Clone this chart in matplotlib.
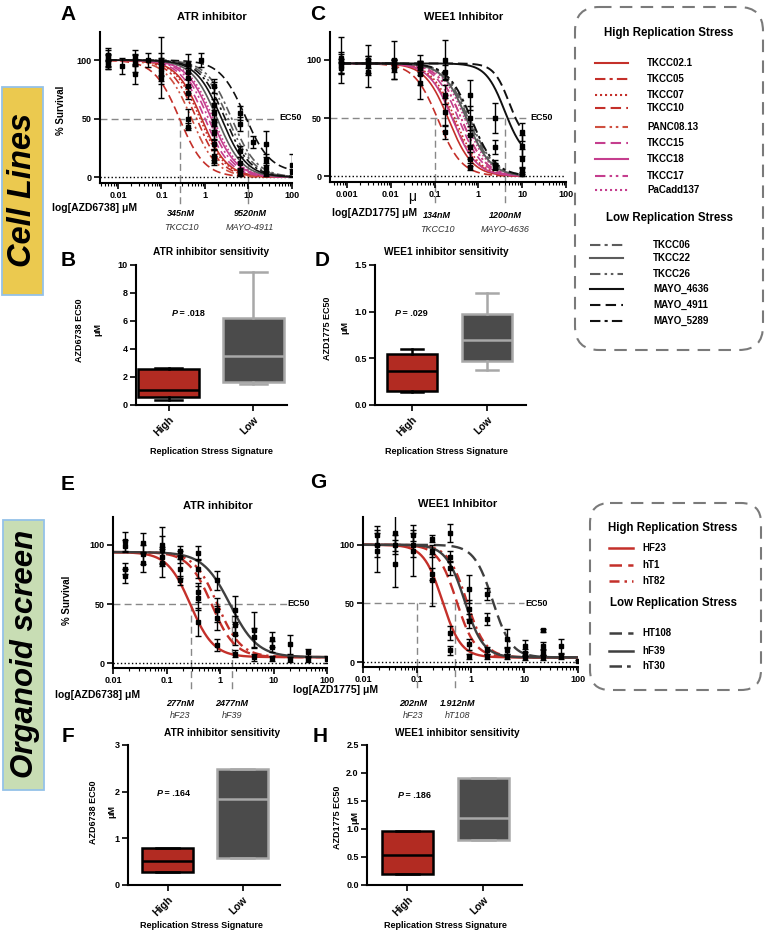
import numpy as np
import matplotlib
matplotlib.use('Agg')
import matplotlib.pyplot as plt
from matplotlib.patches import Rectangle, FancyBboxPatch
from matplotlib.ticker import FixedLocator, NullFormatter

plt.rcParams['font.family'] = ['Liberation Sans', 'DejaVu Sans']

W, H = 767, 935

# ---- names / styles
RED = '#C4302A'
RED2 = '#CF5040'
MAG = '#C53E8E'
GREY = '#5C5C5C'
BLACK = '#111111'
DGREY = '#3F3F3F'
DASH = (0, (5, 2.5))
DOT = (0, (1, 1.4))
DASHDOT = (0, (5, 2, 1.5, 2))
DASHDOTDOT = (0, (5, 2, 1.2, 1.8, 1.2, 2))

hi_names = ['TKCC02.1', 'TKCC05', 'TKCC07', 'TKCC10', 'PANC08.13', 'TKCC15', 'TKCC18', 'TKCC17', 'PaCadd137']
hi_colors = [RED, RED, RED, RED, RED2, MAG, MAG, MAG, MAG]
hi_styles = ['-', DASHDOT, DOT, DASH, DASHDOTDOT, DASH, '-', DASHDOTDOT, DOT]
lo_names = ['TKCC06', 'TKCC22', 'TKCC26', 'MAYO_4636', 'MAYO_4911', 'MAYO_5289']
lo_colors = [GREY, GREY, GREY, BLACK, BLACK, BLACK]
lo_styles = [DASHDOT, '-', DASHDOTDOT, '-', DASH, DASHDOT]

org_hi_names = ['HF23', 'hT1', 'hT82']
org_hi_styles = ['-', DASH, (0, (4, 2, 1, 2))]
org_lo_names = ['HT108', 'hF39', 'hT30']
org_lo_styles = [DASH, '-', DASHDOT]

# ---- fitted curves (EC50 uM, hill, top, bottom)
atr_cell_ec50_hi = [0.84, 0.64, 0.77, 0.26, 0.49, 1.0, 1.4, 1.2, 1.55]
atr_cell_ec50_lo = [4.1, 1.9, 3.4, 2.4, 8.4, 2.9]
atr_cell_bottom_lo = [0, 0, 0, 0, 4, 0]

wee1_cell_ec50_hi = [0.21, 0.27, 0.3, 0.12, 0.42, 0.36, 0.26, 0.42, 0.5]
wee1_cell_ec50_lo = [0.6, 0.55, 0.65, 4.0, 5.0, 0.7]
wee1_cell_hill_lo = [1.6, 1.6, 1.6, 2.0, 2.5, 1.6]
wee1_cell_bottom_lo = [0, 0, 0, 15, 30, 0]

atr_org_curves = ['HF23', 'hT1', 'hT82', 'hF39']
atr_org_curve_ec50 = [0.28, 0.7, 0.9, 1.55]
atr_org_curve_hill = [2.0, 2.0, 2.0, 1.7]

wee1_org_curves = ['HF23', 'hT1', 'hT82', 'hF39', 'HT108']
wee1_org_curve_ec50 = [0.3, 0.55, 0.85, 0.78, 2.6]

# ---- measured points (mean, error) per concentration
atr_cell_conc = [0.006, 0.0125, 0.025, 0.05, 0.1, 0.4, 0.8, 1.6, 6.4, 12.5, 25, 100]
atr_cell_mean = [[100, 98, 102, 96, 104], [95], [100, 97, 88, 103], [100], [100, 96, 90, 85, 92],
                 [97, 90, 85, 78, 72, 50, 43], [100], [78, 62, 55, 45, 38, 28, 18, 14, 48],
                 [55, 45, 22, 12, 5, 3], [30], [28, 15, 8, 3], [10, 4]]
atr_cell_err = [[5, 6, 8, 4, 5], [7], [5, 7, 8, 6], [6], [20, 10, 8, 17, 5],
                [8, 6, 8, 6, 5, 8, 3], [6], [6, 5, 8, 5, 6, 5, 6, 4, 33],
                [6, 6, 5, 5, 3, 2], [5], [11, 5, 4, 2], [10, 3]]

wee1_cell_conc = [0.00074, 0.003, 0.012, 0.046, 0.17, 0.63, 2.4, 10]
wee1_cell_mean = [[100, 97, 95, 102, 93], [100, 95, 90, 98], [100, 95, 92, 97], [97, 93, 88, 80, 95],
                  [100, 90, 70, 55, 38], [70, 50, 35, 25, 15, 8], [50, 25, 10, 8], [38, 26, 15, 5, 2]]
wee1_cell_err = [[20, 8, 6, 5, 5], [13, 6, 13, 5], [16, 5, 8, 4], [7, 6, 10, 14, 4],
                 [17, 6, 8, 12, 6], [13, 10, 8, 10, 6, 3], [13, 6, 4, 3], [8, 9, 8, 3, 2]]

atr_org_conc = [0.0165, 0.036, 0.081, 0.178, 0.39, 0.87, 1.9, 4.3, 9.4, 20, 44, 100]
atr_org_mean = [[103, 99, 80, 74], [102, 92, 85], [100, 96, 90, 85], [95, 90, 80, 70],
                [93, 80, 60, 55, 35], [70, 45, 38, 15], [45, 32, 25, 8], [28, 22, 5],
                [20, 14, 4], [16, 3], [9, 3], [3]]
atr_org_err = [[8, 5, 5, 6], [8, 8, 8], [15, 12, 8, 12], [4, 5, 8, 4],
               [6, 8, 8, 10, 12], [8, 10, 10, 5], [12, 8, 10, 3], [15, 8, 3],
               [6, 5, 2], [8, 2], [3, 2], [3]]

wee1_org_conc = [0.018, 0.039, 0.087, 0.19, 0.42, 0.93, 2.05, 4.7, 10.4, 22, 49, 100]
wee1_org_mean = [[108, 100, 95], [110, 100, 84], [108, 100, 95], [105, 95, 75, 70],
                 [110, 90, 80, 25, 10], [62, 45, 35, 15, 5], [58, 37, 10, 5], [20, 10, 5],
                 [14, 8, 4], [27, 14, 8, 4], [14, 5], [1]]
wee1_org_err = [[8, 10, 18], [15, 8, 20], [5, 10, 22], [3, 5, 5, 22],
                [8, 5, 6, 6, 4], [12, 8, 6, 5, 2], [5, 5, 3, 2], [8, 3, 2],
                [5, 3, 2], [1, 3, 2, 2], [6, 2], [1]]

# ---- EC50 summary values (uM) for the box plots
atr_cell_hi = [1.05, 0.5, 2.5, 0.345, 0.6, 0.9, 2.6, 1.3, 2.65]
atr_cell_lo = [2.8, 1.7, 4.2, 1.5, 9.52, 5.1]
wee1_cell_hi = [0.25, 0.16, 0.42, 0.134, 0.36, 0.52, 0.14, 0.58, 0.6]
wee1_cell_lo = [0.62, 0.5, 0.78, 1.2, 0.907, 0.38]
atr_org_hi = [0.277, 0.52, 0.8]
atr_org_lo = [0.58, 2.477, 1.85]
wee1_org_hi = [0.202, 0.53, 0.97]
wee1_org_lo = [1.912, 1.2, 0.8]

fig = plt.figure(figsize=(W / 100, H / 100), dpi=100)


def px_axes(x0, y0, x1, y1):
    return fig.add_axes([x0 / W, 1 - y1 / H, (x1 - x0) / W, (y1 - y0) / H])


def logistic(x, ec50, hill, top, bottom):
    return bottom + (top - bottom) / (1 + (x / ec50) ** hill)


def style_axes(ax):
    for s in ['top', 'right']:
        ax.spines[s].set_visible(False)
    for s in ['left', 'bottom']:
        ax.spines[s].set_linewidth(1.5)
    ax.tick_params(which='major', length=4, width=1.2, labelsize=6.5, pad=2)
    ax.tick_params(which='minor', length=2.5, width=0.8)
    for lab in ax.get_xticklabels() + ax.get_yticklabels():
        lab.set_fontweight('bold')


def dose_axes(ax, xlim, ticks, labels):
    ax.set_xscale('log')
    ax.set_xlim(xlim)
    ax.set_ylim(-5, 124)
    ax.xaxis.set_major_locator(FixedLocator(ticks))
    ax.set_xticklabels(labels)
    minors = [m * 10.0 ** e for e in range(-4, 3) for m in range(2, 10)]
    ax.xaxis.set_minor_locator(FixedLocator(minors))
    ax.xaxis.set_minor_formatter(NullFormatter())
    ax.set_yticks([0, 50, 100])
    ax.set_yticklabels(['0', '50', '100'])
    ax.axhline(0, color='k', ls=':', lw=1)
    style_axes(ax)


def points(ax, conc, means, errs):
    for c, ms, es in zip(conc, means, errs):
        ax.errorbar([c] * len(ms), ms, yerr=es, fmt='s', color='k', ms=3,
                    capsize=2.5, elinewidth=1, capthick=1, zorder=5)


def ec50_marks(ax, x_left, x_right, vlines, ybot):
    ax.plot([x_left, x_right], [50, 50], color='#888888', ls=(0, (5, 3)), lw=1, zorder=1)
    for v in vlines:
        ax.plot([v, v], [50, ybot], color='#888888', ls=(0, (5, 3)), lw=1,
                clip_on=False, zorder=1)


# ================= A : ATR cell lines
axA = px_axes(100, 32, 292, 183)
dose_axes(axA, (0.00386, 100), [0.01, 0.1, 1, 10, 100], ['0.01', '0.1', '1', '10', '100'])
xs = np.logspace(np.log10(0.006), 2, 300)
for e, c, ls in zip(atr_cell_ec50_hi, hi_colors, hi_styles):
    axA.plot(xs, logistic(xs, e, 1.5, 100, 0), color=c, ls=ls, lw=1.2)
for e, b, c, ls in zip(atr_cell_ec50_lo, atr_cell_bottom_lo, lo_colors, lo_styles):
    axA.plot(xs, logistic(xs, e, 1.5, 100, b), color=c, ls=ls, lw=1.2)
points(axA, atr_cell_conc, atr_cell_mean, atr_cell_err)
ec50_marks(axA, 0.00386, 45, [0.27, 10], -24)

# ================= C : WEE1 cell lines
axC = px_axes(330, 32, 566, 182)
dose_axes(axC, (0.00041, 100), [0.001, 0.01, 0.1, 1, 10, 100],
          ['0.001', '0.01', '0.1', '1', '10', '100'])
xs = np.logspace(np.log10(0.00074), 1, 300)
for e, c, ls in zip(wee1_cell_ec50_hi, hi_colors, hi_styles):
    axC.plot(xs, logistic(xs, e, 1.6, 97, 0), color=c, ls=ls, lw=1.2)
for e, h, b, c, ls in zip(wee1_cell_ec50_lo, wee1_cell_hill_lo, wee1_cell_bottom_lo, lo_colors, lo_styles):
    axC.plot(xs, logistic(xs, e, h, 97, b), color=c, ls=ls, lw=1.4)
points(axC, wee1_cell_conc, wee1_cell_mean, wee1_cell_err)
ec50_marks(axC, 0.00041, 12, [0.1, 4.1], -26)

# ================= E : ATR organoids
org_style = {n: (RED, s) for n, s in zip(org_hi_names, org_hi_styles)}
org_style.update({n: (DGREY, s) for n, s in zip(org_lo_names, org_lo_styles)})

axE = px_axes(113, 517, 327, 668)
dose_axes(axE, (0.01, 100), [0.01, 0.1, 1, 10, 100], ['0.01', '0.1', '1', '10', '100'])
axE.set_ylim(-4.2, 123.7)
xs = np.logspace(-2, 2, 300)
for n, e, h in zip(atr_org_curves, atr_org_curve_ec50, atr_org_curve_hill):
    c, ls = org_style[n]
    axE.plot(xs, logistic(xs, e, h, 94, 5), color=c, ls=ls, lw=1.7)
points(axE, atr_org_conc, atr_org_mean, atr_org_err)
ec50_marks(axE, 0.01, 18, [0.29, 1.7], -23)

# ================= G : WEE1 organoids
axG = px_axes(363, 517, 578, 667)
dose_axes(axG, (0.01, 100), [0.01, 0.1, 1, 10, 100], ['0.01', '0.1', '1', '10', '100'])
axG.set_ylim(-4.2, 123.7)
for n, e in zip(wee1_org_curves, wee1_org_curve_ec50):
    c, ls = org_style[n]
    axG.plot(xs, logistic(xs, e, 2.5, 100, 4), color=c, ls=ls, lw=1.7)
points(axG, wee1_org_conc, wee1_org_mean, wee1_org_err)
ec50_marks(axG, 0.01, 10, [0.1, 0.52], -23)


# ================= box plots
def box_panel(ax, hi, lo, ylim, yticks, ylabels, xlim, width, capw):
    for pos, vals, fc, ec in [(0, hi, '#B22B22', 'k'), (1, lo, '#4B4B4B', '#A8A8A8')]:
        q1, med, q3 = np.percentile(vals, [25, 50, 75], method='weibull')
        st = dict(med=med, q1=q1, q3=q3, whislo=min(vals), whishi=max(vals), fliers=[])
        ax.bxp([st], positions=[pos], widths=width, patch_artist=True, showfliers=False,
               capwidths=capw,
               boxprops=dict(facecolor=fc, edgecolor=ec, linewidth=1.8),
               medianprops=dict(color=ec, linewidth=1.8),
               whiskerprops=dict(color=ec, linewidth=1.8),
               capprops=dict(color=ec, linewidth=1.8))
    ax.set_xlim(xlim)
    ax.set_ylim(ylim)
    ax.set_yticks(yticks)
    ax.set_yticklabels(ylabels)
    ax.set_xticks([0, 1])
    ax.set_xticklabels(['High', 'Low'], rotation=45, ha='right', rotation_mode='anchor')
    style_axes(ax)
    ax.tick_params(axis='x', labelsize=7.5, length=4, pad=3)


axB = px_axes(136, 265, 287, 405)
box_panel(axB, atr_cell_hi, atr_cell_lo, (0, 10), [0, 2, 4, 6, 8, 10],
          ['0', '2', '4', '6', '8', '10'], (-0.385, 1.40), 0.72, 0.32)
axD = px_axes(375, 265, 526, 405)
box_panel(axD, wee1_cell_hi, wee1_cell_lo, (0, 1.5), [0, 0.5, 1.0, 1.5],
          ['0.0', '0.5', '1.0', '1.5'], (-0.49, 1.52), 0.67, 0.29)
axF = px_axes(128, 745, 280, 885)
box_panel(axF, atr_org_hi, atr_org_lo, (0, 3), [0, 1, 2, 3],
          ['0', '1', '2', '3'], (-0.53, 1.50), 0.68, 0.3)
axH = px_axes(367, 745, 522, 885)
box_panel(axH, wee1_org_hi, wee1_org_lo, (0, 2.5), [0, 0.5, 1.0, 1.5, 2.0, 2.5],
          ['0.0', '0.5', '1.0', '1.5', '2.0', '2.5'], (-0.53, 1.51), 0.67, 0.3)

# ================= overlay in pixel coordinates
ov = fig.add_axes([0, 0, 1, 1])
ov.set_xlim(0, W)
ov.set_ylim(H, 0)
ov.axis('off')


def t(x, y, s, size=7, weight='bold', style='normal', ha='left', color='k', **kw):
    ov.text(x, y, s, fontsize=size, fontweight=weight, fontstyle=style, ha=ha,
            va='center', color=color, **kw)


# side labels
ov.add_patch(Rectangle((2, 87), 41, 208, facecolor='#EBC94F', edgecolor='#94C2E8', lw=1.3))
t(23, 190, 'Cell Lines', size=23.5, style='italic', ha='center', rotation=90)
ov.add_patch(Rectangle((3, 520), 41, 270, facecolor='#C8DDB4', edgecolor='#94C2E8', lw=1.3))
t(25, 654, 'Organoid screen', size=22.5, style='italic', ha='center', rotation=90)

# panel letters
for letter, x, y in [('A', 68, 14), ('C', 318, 14), ('B', 68, 261), ('D', 322, 261),
                     ('E', 68, 484), ('G', 318, 483), ('F', 68, 736), ('H', 320, 736)]:
    t(x, y, letter, size=15, ha='center')

# titles
t(212, 17, 'ATR inhibitor', size=8, ha='center')
t(464, 17, 'WEE1 Inhibitor', size=8, ha='center')
t(218, 506, 'ATR inhibitor', size=8, ha='center')
t(458, 504, 'WEE1 Inhibitor', size=8, ha='center')
t(211, 252, 'ATR inhibitor sensitivity', size=7.3, ha='center')
t(446, 252, 'WEE1 inhibitor sensitivity', size=7.3, ha='center')
t(222, 733, 'ATR inhibitor sensitivity', size=7.3, ha='center')
t(457, 733, 'WEE1 inhibitor sensitivity', size=7.3, ha='center')

# axis labels
t(61, 110, '% Survival', size=7, ha='center', rotation=90)
t(67, 600, '% Survival', size=7, ha='center', rotation=90)
t(52, 208, 'log[AZD6738] μM', size=7.5)
t(332, 213, 'log[AZD1775] μM', size=7.5)
t(55, 695, 'log[AZD6738] μM', size=7.5)
t(293, 690, 'log[AZD1775] μM', size=7.5)
t(408, 197, 'μ', size=10, weight='normal')

t(80, 330, 'AZD6738 EC50', size=6.5, ha='center', rotation=90)
t(98, 330, 'μM', size=6.5, ha='center', rotation=90)
t(327, 328, 'AZD1775 EC50', size=6.5, ha='center', rotation=90)
t(345, 328, 'μM', size=6.5, ha='center', rotation=90)
t(93, 812, 'AZD6738 EC50', size=6.5, ha='center', rotation=90)
t(112, 812, 'μM', size=6.5, ha='center', rotation=90)
t(337, 817, 'AZD1775 EC50', size=6.5, ha='center', rotation=90)
t(355, 817, 'μM', size=6.5, ha='center', rotation=90)

for x, y in [(211, 452), (446, 452), (201, 926), (445, 926)]:
    t(x, y, 'Replication Stress Signature', size=6.5, ha='center')

for x, y, p in [(172, 313, '.018'), (395, 313, '.029'), (157, 793, '.164'), (398, 796, '.186')]:
    t(x, y, 'P', size=6.5, style='italic')
    t(x + 5, y, ' = ' + p, size=6.5)

# EC50 annotations
for x, y in [(279, 118), (530, 118), (287, 604), (525, 604)]:
    t(x, y, 'EC50', size=6.5)
for x, top, bot in [(181, '345nM', 'TKCC10'), (250, '9520nM', 'MAYO-4911')]:
    t(x, 213, top, size=6.5, style='italic', ha='center')
    t(x, 228, bot, size=6.5, weight='normal', style='italic', ha='center', color='#333333')
for x, top, bot in [(437, '134nM', 'TKCC10'), (505, '1200nM', 'MAYO-4636')]:
    t(x, 215, top, size=6.5, style='italic', ha='center')
    t(x, 230, bot, size=6.5, weight='normal', style='italic', ha='center', color='#333333')
for x, top, bot in [(180, '277nM', 'hF23'), (232, '2477nM', 'hF39'),
                    (413, '202nM', 'hF23'), (458, '1.912nM', 'hT108')]:
    t(x, 703, top, size=6.5, style='italic', ha='center')
    t(x, 716, bot, size=6.5, weight='normal', style='italic', ha='center', color='#333333')

# legend: cell lines
ov.add_patch(FancyBboxPatch((575, 7), 188, 343, boxstyle='round,pad=0,rounding_size=24',
                            facecolor='none', edgecolor='#7A7A7A', lw=1.5, ls=(0, (6, 4))))
t(669, 33, 'High Replication Stress', size=8.3, ha='center')
hi_y = [63, 79, 95, 108, 127, 143, 159, 176, 190]
for name, c, ls, y in zip(hi_names, hi_colors, hi_styles, hi_y):
    ov.plot([595, 628], [y, y], color=c, ls=ls, lw=1.5)
    t(647, y, name, size=7)
t(669, 218, 'Low Replication Stress', size=8.3, ha='center')
lo_y = [245, 258, 274, 289, 305, 321]
for name, c, ls, y in zip(lo_names, lo_colors, lo_styles, lo_y):
    ov.plot([590, 623], [y, y], color=c, ls=ls, lw=1.5)
    t(653, y, name, size=7)

# legend: organoids
ov.add_patch(FancyBboxPatch((590, 503), 171, 187, boxstyle='round,pad=0,rounding_size=20',
                            facecolor='none', edgecolor='#7A7A7A', lw=1.5, ls=(0, (6, 4))))
t(673, 528, 'High Replication Stress', size=8.3, ha='center')
for name, ls, y in zip(org_hi_names, org_hi_styles, [548, 565, 581]):
    ov.plot([609, 633], [y, y], color=RED, ls=ls, lw=1.8)
    t(642, y, name, size=7)
t(673, 603, 'Low Replication Stress', size=8.3, ha='center')
for name, ls, y in zip(org_lo_names, org_lo_styles, [633, 651, 666]):
    ov.plot([609, 633], [y, y], color=DGREY, ls=ls, lw=1.8)
    t(642, y, name, size=7)

fig.savefig('out.png', dpi=100)
